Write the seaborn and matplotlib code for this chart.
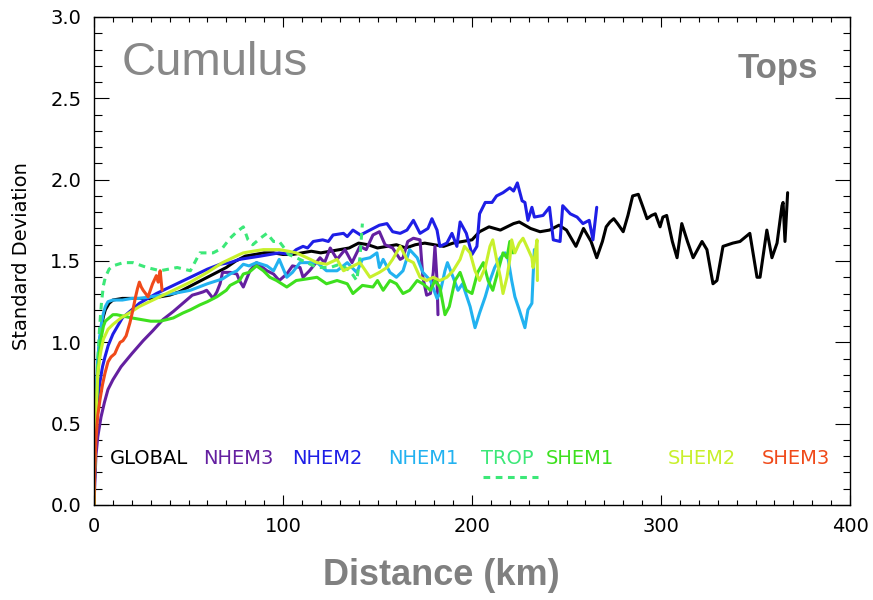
import numpy as np
import pandas as pd
import matplotlib
matplotlib.use("Agg")
import matplotlib.pyplot as plt
import seaborn as sns
from matplotlib.ticker import MultipleLocator, FormatStrFormatter

# ---------------- data (distance km, standard deviation) ----------------
series_names = ["GLOBAL", "NHEM3", "NHEM2", "NHEM1", "TROP", "SHEM1", "SHEM2", "SHEM3"]

global_pts = [(0, 0), (1, 0.55), (2, 0.85), (3, 1.0), (4, 1.1), (5, 1.16), (6, 1.2), (8, 1.24), (10, 1.26),
              (15, 1.27), (20, 1.27), (25, 1.27), (30, 1.27), (35, 1.28), (40, 1.29), (45, 1.31), (50, 1.34),
              (55, 1.37), (60, 1.40), (65, 1.43), (70, 1.46), (75, 1.50), (80, 1.53), (85, 1.54), (90, 1.55),
              (95, 1.55), (100, 1.54), (105, 1.54), (110, 1.55), (115, 1.56), (120, 1.55), (125, 1.56),
              (130, 1.57), (135, 1.58), (140, 1.61), (145, 1.60), (150, 1.58), (155, 1.59), (160, 1.60),
              (165, 1.58), (170, 1.60), (175, 1.61), (180, 1.60), (185, 1.59), (190, 1.61), (195, 1.62),
              (200, 1.63), (204, 1.68), (209, 1.71), (215, 1.69), (222, 1.73), (225, 1.74), (231, 1.70),
              (236, 1.68), (241, 1.69), (246, 1.72), (250, 1.69), (255, 1.59), (259, 1.70), (263, 1.62),
              (266, 1.52), (269, 1.62), (271, 1.71), (273, 1.74), (275, 1.76), (277, 1.73), (280, 1.68),
              (282.5, 1.78), (285, 1.90), (288, 1.91), (290.5, 1.83), (292.6, 1.76), (295, 1.78), (297, 1.79),
              (299.5, 1.71), (301, 1.77), (303, 1.78), (306, 1.62), (308.5, 1.52), (311, 1.73), (314, 1.62),
              (317, 1.52), (321.7, 1.62), (324.3, 1.57), (327.5, 1.36), (329.6, 1.38), (332.8, 1.59),
              (338, 1.61), (341.8, 1.62), (347, 1.67), (350.8, 1.40), (352.4, 1.40), (356, 1.69),
              (358.7, 1.52), (361.4, 1.61), (364, 1.84), (364.6, 1.86), (365.6, 1.62), (367, 1.92)]

nhem3_pts = [(0, 0), (1, 0.3), (2, 0.42), (3.7, 0.54), (5.5, 0.63), (7.4, 0.71), (10, 0.77), (14.3, 0.85),
             (20, 0.93), (26, 1.01), (31, 1.07), (36.5, 1.14), (42, 1.19), (47, 1.24), (52, 1.29), (55, 1.30),
             (57.7, 1.31), (59.6, 1.32), (61, 1.30), (63, 1.27), (65, 1.31), (66.7, 1.36), (68, 1.43),
             (72, 1.43), (75.6, 1.42), (77, 1.38), (79, 1.34), (82.5, 1.44), (86, 1.49), (91.5, 1.44),
             (95, 1.42), (98, 1.38), (102, 1.42), (105, 1.47), (109, 1.46), (110.6, 1.40), (114, 1.44),
             (119.6, 1.52), (122, 1.49), (125, 1.58), (128.6, 1.51), (132.8, 1.57), (136.5, 1.49),
             (140.7, 1.59), (144, 1.57), (147.6, 1.66), (151, 1.68), (154, 1.60), (158, 1.58), (162, 1.51),
             (163.5, 1.52), (166, 1.62), (169, 1.64), (172.5, 1.63), (174, 1.40), (176, 1.29), (178, 1.30),
             (179.5, 1.43), (180.4, 1.59), (181.5, 1.38), (182, 1.17)]

nhem2_pts = [(0, 0), (0.5, 0.3), (1, 0.5), (2, 0.66), (3.2, 0.76), (4.5, 0.85), (5.8, 0.91), (7.5, 0.98),
             (10, 1.05), (15, 1.15), (24, 1.24), (33, 1.30), (42, 1.35), (51, 1.40), (60, 1.45), (66.7, 1.48),
             (72, 1.49), (77, 1.51), (82.5, 1.52), (88, 1.53), (93, 1.54), (98, 1.55), (104, 1.54), (107, 1.57),
             (110.6, 1.59), (113, 1.58), (116, 1.62), (121, 1.63), (124, 1.62), (126.5, 1.66), (132, 1.67),
             (134, 1.65), (137, 1.69), (141, 1.66), (146, 1.69), (151, 1.72), (155, 1.73), (158, 1.68),
             (162, 1.67), (165.6, 1.69), (169, 1.75), (172.5, 1.67), (176.7, 1.70), (178.8, 1.76),
             (181.5, 1.69), (183, 1.59), (186.7, 1.61), (189.4, 1.67), (192, 1.59), (193.7, 1.74), (197, 1.67),
             (200, 1.54), (202.6, 1.59), (204, 1.79), (207, 1.86), (210.6, 1.86), (213, 1.90), (216.4, 1.92),
             (220, 1.95), (222, 1.93), (224, 1.98), (226.5, 1.87), (228, 1.86), (229.6, 1.75), (231.7, 1.83),
             (233, 1.77), (237.6, 1.78), (241, 1.83), (243, 1.63), (246.6, 1.62), (248, 1.84), (252, 1.79),
             (255.6, 1.77), (258.7, 1.73), (262, 1.75), (264, 1.63), (266, 1.83)]

nhem1_pts = [(0, 0), (0.5, 0.4), (1, 0.65), (2, 0.9), (3, 1.03), (4, 1.12), (5, 1.18), (6, 1.22), (7.4, 1.25),
             (10, 1.26), (15, 1.26), (20, 1.27), (24, 1.27), (30, 1.28), (36, 1.29), (42, 1.30), (51, 1.32),
             (60, 1.36), (68, 1.39), (72, 1.42), (75.6, 1.44), (79, 1.48), (82, 1.47), (86, 1.49), (91.5, 1.47),
             (95, 1.44), (98, 1.51), (102, 1.40), (105, 1.43), (109, 1.49), (112.7, 1.49), (118, 1.49),
             (123, 1.44), (128.6, 1.44), (134, 1.49), (139, 1.43), (142, 1.51), (146, 1.52), (149.7, 1.55),
             (151, 1.46), (153, 1.51), (156.6, 1.43), (160, 1.40), (163.5, 1.44), (167, 1.57), (171, 1.52),
             (174, 1.43), (178, 1.38), (181.5, 1.27), (183, 1.30), (185.7, 1.44), (187, 1.49), (190, 1.40),
             (192.6, 1.32), (195, 1.36), (199, 1.22), (201.6, 1.09), (204, 1.18), (207, 1.28), (209.5, 1.38),
             (212, 1.46), (215, 1.52), (217.5, 1.55), (219, 1.52), (221, 1.38), (222.7, 1.28), (225, 1.20),
             (228, 1.09), (229.6, 1.20), (231.7, 1.24), (232.3, 1.40), (233, 1.57)]

trop_pts = [(0, 0), (0.5, 0.3), (1, 0.55), (2, 0.88), (3, 1.1), (4, 1.25), (5, 1.35), (6, 1.40), (8, 1.45),
            (10, 1.47), (15.5, 1.49), (20.6, 1.49), (28, 1.46), (35, 1.44), (44, 1.46), (51, 1.44), (56, 1.55),
            (63, 1.55), (68, 1.58), (72, 1.64), (75.6, 1.68), (79, 1.71), (81.5, 1.63), (84, 1.60), (88, 1.64),
            (91.5, 1.67), (95, 1.62), (98, 1.62), (100, 1.59), (103, 1.54), (107, 1.52), (112.7, 1.49),
            (118, 1.46), (125, 1.46), (130, 1.48), (135.5, 1.44), (139, 1.38), (140.7, 1.52), (142, 1.73)]

shem1_pts = [(0, 0), (0.5, 0.35), (1, 0.55), (2, 0.8), (3, 0.95), (4, 1.04), (5, 1.1), (6, 1.13), (8, 1.15),
             (10, 1.17), (12, 1.17), (16, 1.16), (20, 1.15), (25, 1.14), (30, 1.13), (35, 1.13), (38.6, 1.14),
             (42, 1.15), (47, 1.18), (51, 1.20), (56, 1.23), (60, 1.25), (65, 1.28), (70, 1.32), (72, 1.35),
             (77, 1.38), (79, 1.42), (82, 1.43), (86, 1.47), (89.6, 1.44), (93, 1.40), (96.6, 1.38),
             (102, 1.34), (107, 1.38), (112.7, 1.39), (118, 1.40), (123, 1.36), (128.6, 1.38), (134, 1.36),
             (137, 1.30), (142, 1.35), (147.6, 1.34), (150, 1.38), (153, 1.32), (156.6, 1.38), (160, 1.36),
             (163.5, 1.30), (167, 1.32), (171, 1.38), (174, 1.36), (178, 1.32), (180.4, 1.38), (183, 1.34),
             (185.7, 1.17), (188, 1.22), (191, 1.38), (193.7, 1.43), (197, 1.32), (200, 1.30), (203, 1.43),
             (206, 1.49), (208.5, 1.38), (211, 1.32), (213.8, 1.44), (216.4, 1.55), (218.5, 1.52),
             (220, 1.62), (221.7, 1.55)]

shem2_pts = [(0, 0), (0.5, 0.35), (1, 0.55), (2, 0.81), (3, 0.9), (3.7, 0.95), (5, 1.02), (7.4, 1.08),
             (10, 1.11), (14.3, 1.15), (20, 1.19), (24, 1.22), (33, 1.27), (42, 1.32), (51, 1.37), (60, 1.43),
             (68, 1.49), (77, 1.54), (79, 1.55), (84, 1.56), (89.6, 1.57), (98, 1.57), (103, 1.56), (107, 1.55),
             (112.7, 1.52), (118, 1.49), (123, 1.48), (128.6, 1.51), (132, 1.44), (135.5, 1.46), (140.7, 1.49),
             (146, 1.40), (151, 1.43), (155, 1.46), (158, 1.51), (162, 1.59), (165.6, 1.51), (169, 1.49),
             (172.5, 1.40), (176, 1.38), (179.5, 1.40), (183, 1.38), (186.7, 1.40), (190, 1.44), (193.7, 1.51),
             (196, 1.59), (199, 1.55), (201.6, 1.44), (204, 1.38), (207, 1.46), (209.5, 1.59), (211, 1.63),
             (213, 1.51), (215, 1.40), (216.4, 1.30), (218.5, 1.40), (220, 1.51), (221, 1.63), (222.7, 1.55),
             (225, 1.61), (227, 1.64), (229, 1.59), (231.7, 1.52), (232.3, 1.46), (233, 1.51), (234.4, 1.63),
             (234.6, 1.38)]

shem3_pts = [(0, 0), (0.3, 0.2), (1, 0.40), (2, 0.55), (3.2, 0.65), (4.5, 0.74), (5.8, 0.81), (7.4, 0.88),
             (9, 0.91), (11, 0.93), (12.5, 0.97), (13.8, 1.0), (15.3, 1.01), (17, 1.04), (19, 1.12),
             (20.6, 1.20), (22, 1.28), (23, 1.33), (24, 1.37), (25, 1.34), (26, 1.32), (28.6, 1.28),
             (31, 1.36), (33, 1.41), (34, 1.37), (35, 1.44), (36, 1.32)]

series_points = [global_pts, nhem3_pts, nhem2_pts, nhem1_pts, trop_pts, shem1_pts, shem2_pts, shem3_pts]

x_ticks = [0, 100, 200, 300, 400]
y_ticks = [0.0, 0.5, 1.0, 1.5, 2.0, 2.5, 3.0]

# ---------------- style ----------------
colors = {"GLOBAL": "#000000", "NHEM3": "#6420A0", "NHEM2": "#1E1EE6", "NHEM1": "#22B2F0",
          "TROP": "#3CE878", "SHEM1": "#3EE01E", "SHEM2": "#C8F02C", "SHEM3": "#F04A1A"}

sns.set_style("ticks")
plt.rcParams["font.family"] = ["DejaVu Sans"]

frames = []
for name, pts in zip(series_names, series_points):
    d, v = zip(*pts)
    frames.append(pd.DataFrame({"distance": d, "std": v, "region": name}))
df = pd.concat(frames, ignore_index=True)

fig = plt.figure(figsize=(8.73, 6.00), dpi=100)
ax = fig.add_axes([94 / 873, 95 / 600, 756 / 873, 488 / 600])

for name in series_names:
    sub = df[df["region"] == name]
    ls = (0, (2.2, 1.8)) if name == "TROP" else "-"
    sns.lineplot(data=sub, x="distance", y="std", ax=ax, color=colors[name], lw=2.2,
                 linestyle=ls, estimator=None, sort=False, legend=False)

ax.set_xlim(0, 400)
ax.set_ylim(0, 3.0)
ax.set_xticks(x_ticks)
ax.set_yticks(y_ticks)
ax.yaxis.set_major_formatter(FormatStrFormatter("%.1f"))
ax.xaxis.set_minor_locator(MultipleLocator(10))
ax.yaxis.set_minor_locator(MultipleLocator(0.1))
ax.set_xlabel("")
ax.set_ylabel("")
for s in ax.spines.values():
    s.set_visible(True)
    s.set_linewidth(1.0)
    s.set_color("black")
ax.tick_params(axis="both", which="both", direction="in", top=True, right=True,
               labelsize=14, colors="black", width=0.8)
ax.tick_params(axis="y", which="major", length=10.8, pad=9)
ax.tick_params(axis="y", which="minor", length=5.4)
ax.tick_params(axis="x", which="major", length=7.2, pad=9)
ax.tick_params(axis="x", which="minor", length=3.6)

# in-plot labels (legend)
label_x = [8.5, 57.7, 105, 155.6, 204.8, 239, 303.7, 353.4]
for name, lx in zip(series_names, label_x):
    ax.text(lx, 0.283, name, color=colors[name], fontsize=14, ha="left", va="center")
ax.plot([0.515, 0.587], [0.057, 0.057], transform=ax.transAxes, color=colors["TROP"], lw=2.2,
        linestyle=(0, (2.2, 1.8)))

ax.text(0.037, 0.881, "Cumulus", transform=ax.transAxes, fontsize=34, color="#888888",
        family="Liberation Sans", ha="left", va="baseline")
ax.text(0.958, 0.875, "Tops", transform=ax.transAxes, fontsize=25, color="#808080",
        family="Liberation Sans", fontweight="bold", ha="right", va="baseline")

fig.text(441 / 873, 0.025, "Distance (km)", fontsize=26, color="#808080", family="Liberation Sans",
         fontweight="bold", ha="center", va="baseline")
fig.text(22 / 873, (600 - 256) / 600, "Standard Deviation", fontsize=14, rotation=90,
         ha="center", va="center", color="black")

fig.savefig("out.png", dpi=100)
